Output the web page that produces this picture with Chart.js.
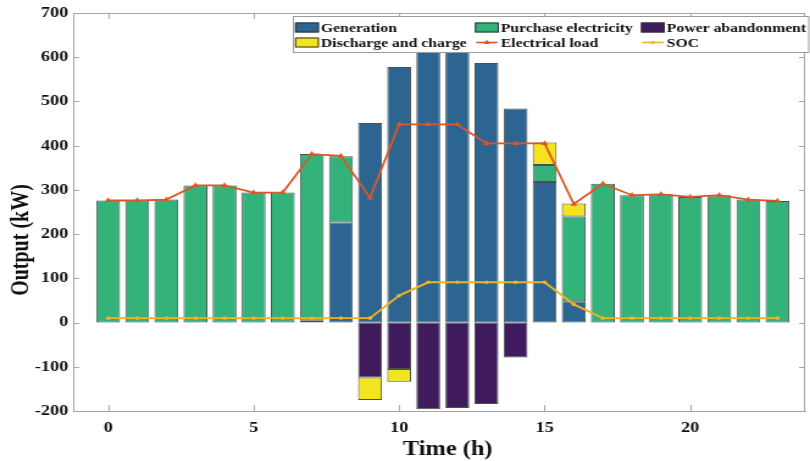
<!DOCTYPE html>
<html>
<head>
<meta charset="utf-8">
<title>Hourly power balance</title>
<script src="https://cdn.jsdelivr.net/npm/chart.js@4/dist/chart.umd.min.js"></script>
<style>
  html, body { margin: 0; padding: 0; background: #ffffff; overflow: hidden; }
  #wrap { width: 664px; height: 461px; transform: scaleX(1.21988); transform-origin: 0 0; }
</style>
</head>
<body>
<div id="wrap"><canvas id="c" width="664" height="461"></canvas></div>
<script>
// Hour of day
const hours = [0, 1, 2, 3, 4, 5, 6, 7, 8, 9, 10, 11, 12, 13, 14, 15, 16, 17, 18, 19, 20, 21, 22, 23];

// Stacked bar series (kW)
const generation  = [0, 0, 0, 0, 0, 0, 0, 4, 226, 451, 578, 644, 641, 587, 484, 318, 48, 0, 0, 0, 0, 0, 0, 0];
const purchase    = [276, 276, 278, 310, 310, 294, 294, 377, 150, 0, 0, 0, 0, 0, 0, 38, 192, 314, 288, 290, 284, 288, 278, 275];
const abandonment = [0, 0, 0, 0, 0, 0, 0, 0, 0, -124, -105, -196, -193, -184, -79, 0, 0, 0, 0, 0, 0, 0, 0, 0];
const storage     = [0, 0, 0, 0, 0, 0, 0, 0, 0, -51, -29, 0, 0, 0, 0, 51, 29, 0, 0, 0, 0, 0, 0, 0];

// Line series
const load = [276, 276, 278, 310, 310, 294, 294, 381, 377, 282, 448, 448, 448, 405, 405, 405, 268, 314, 288, 290, 284, 288, 278, 275];
const soc  = [10, 10, 10, 10, 10, 10, 10, 10, 10, 10, 61, 91, 91, 91, 91, 91, 41, 10, 10, 10, 10, 10, 10, 10];

// Axis ticks
const xTickValues = [0, 5, 10, 15, 20];
const yTickValues = [-200, -100, 0, 100, 200, 300, 400, 500, 600, 700];

const seriesNames = ['Generation', 'Purchase electricity', 'Power abandonment',
                     'Discharge and charge', 'Electrical load', 'SOC'];

const FONT = "'Liberation Serif', 'Times New Roman', serif";
const AXIS_COLOR = '#a4a4a4';
const TEXT_COLOR = '#111111';
const EDGE = 'rgba(40,50,50,0.85)';

const toPoints = vals => hours.map((h, i) => ({ x: h, y: vals[i] }));

const barDataset = (label, vals, color) => ({
  type: 'bar',
  label,
  data: toPoints(vals),
  backgroundColor: color,
  borderColor: EDGE,
  borderWidth: 1,
  borderSkipped: false,
  categoryPercentage: 1.0,
  barPercentage: 0.82
});

// Box edges and inward tick marks, drawn beneath the bars
const frame = {
  id: 'frame',
  beforeDatasetsDraw(chart) {
    const { ctx, chartArea: a, scales: { x, y } } = chart;
    ctx.save();
    ctx.strokeStyle = AXIS_COLOR;
    ctx.lineWidth = 1;
    ctx.beginPath();
    ctx.moveTo(a.left, a.top + 0.5); ctx.lineTo(a.right, a.top + 0.5);
    ctx.moveTo(a.right - 0.5, a.top); ctx.lineTo(a.right - 0.5, a.bottom);
    xTickValues.forEach(v => {
      const px = Math.round(x.getPixelForValue(v)) + 0.5;
      ctx.moveTo(px, a.bottom); ctx.lineTo(px, a.bottom - 6);
      ctx.moveTo(px, a.top); ctx.lineTo(px, a.top + 6);
    });
    yTickValues.forEach(v => {
      const py = Math.round(y.getPixelForValue(v)) + 0.5;
      ctx.moveTo(a.left, py); ctx.lineTo(a.left + 5, py);
      ctx.moveTo(a.right, py); ctx.lineTo(a.right - 5, py);
    });
    ctx.stroke();
    ctx.restore();
  }
};

// Axis titles and the boxed three-column legend
const annotations = {
  id: 'annotations',
  afterDraw(chart) {
    const { ctx } = chart;
    const ds = chart.data.datasets;
    ctx.save();

    // axis titles
    ctx.fillStyle = TEXT_COLOR;
    ctx.font = 'bold 20px ' + FONT;
    ctx.textAlign = 'center';
    ctx.textBaseline = 'alphabetic';
    ctx.fillText('Time (h)', 367, 454.5);
    ctx.save();
    ctx.translate(17.5, 240);
    ctx.rotate(-Math.PI / 2);
    ctx.textBaseline = 'middle';
    ctx.fillText('Output (kW)', 0, 0);
    ctx.restore();

    // legend box
    const box = { l: 240.5, t: 16.5, r: 663, b: 52.5 };
    ctx.fillStyle = '#ffffff';
    ctx.fillRect(box.l, box.t, box.r - box.l, box.b - box.t);
    ctx.strokeStyle = '#9c9c9c';
    ctx.lineWidth = 1;
    ctx.strokeRect(box.l, box.t, box.r - box.l, box.b - box.t);

    const cols = [241.8, 389.3, 525.4];
    const rows = [{ top: 22.5, base: 32 }, { top: 37.5, base: 47.2 }];
    const swW = 19.6, swH = 10;
    ctx.font = 'bold 12.9px ' + FONT;
    ctx.textAlign = 'left';
    ctx.textBaseline = 'alphabetic';

    ds.forEach((d, i) => {
      const cx = cols[i % 3];
      const r = rows[Math.floor(i / 3)];
      if (d.type === 'bar') {
        ctx.fillStyle = d.backgroundColor;
        ctx.fillRect(cx, r.top, swW, swH);
        ctx.strokeStyle = '#333333';
        ctx.strokeRect(cx + 0.5, r.top + 0.5, swW - 1, swH - 1);
      } else {
        const ly = r.top + swH / 2;
        ctx.strokeStyle = d.borderColor;
        ctx.lineWidth = 1.6;
        ctx.beginPath();
        ctx.moveTo(cx + 1, ly); ctx.lineTo(cx + swW - 1, ly);
        ctx.stroke();
        ctx.lineWidth = 1;
        ctx.fillStyle = d.borderColor;
        const mx = cx + swW / 2;
        if (d.pointStyle === 'triangle') {
          ctx.beginPath();
          ctx.moveTo(mx, ly - 3); ctx.lineTo(mx + 2.6, ly + 1.6); ctx.lineTo(mx - 2.6, ly + 1.6);
          ctx.closePath(); ctx.fill();
        } else {
          ctx.beginPath(); ctx.arc(mx, ly, 1.6, 0, Math.PI * 2); ctx.fill();
        }
      }
      ctx.fillStyle = TEXT_COLOR;
      ctx.fillText(d.label, cx + swW + 1.6, r.base);
    });
    ctx.restore();
  }
};

new Chart(document.getElementById('c'), {
  data: {
    datasets: [
      barDataset(seriesNames[0], generation, '#2c6592'),
      barDataset(seriesNames[1], purchase, '#33b37a'),
      barDataset(seriesNames[2], abandonment, '#3f1b5e'),
      barDataset(seriesNames[3], storage, '#f4e41f'),
      {
        type: 'line', label: seriesNames[4], data: toPoints(load), stack: 'load', order: -1,
        borderColor: '#dc5627', backgroundColor: '#dc5627', borderWidth: 1.8, tension: 0,
        pointStyle: 'triangle', pointRadius: 3.2, pointBorderWidth: 0
      },
      {
        type: 'line', label: seriesNames[5], data: toPoints(soc), stack: 'soc', order: -1,
        borderColor: '#efb323', backgroundColor: '#efb323', borderWidth: 1.9, tension: 0,
        pointStyle: 'circle', pointRadius: 1.8, pointBorderWidth: 0
      }
    ]
  },
  options: {
    responsive: false,
    animation: false,
    layout: { padding: { top: 13, right: 1, left: 0, bottom: 0 } },
    plugins: { legend: { display: false }, tooltip: { enabled: false } },
    scales: {
      x: {
        type: 'linear', min: -1.2, max: 23.95, offset: false, stacked: true,
        grid: { display: false, drawTicks: false, offset: false },
        border: { display: true, color: AXIS_COLOR, width: 1 },
        ticks: { autoSkip: false, maxRotation: 0, padding: 8, color: TEXT_COLOR,
                 font: { family: FONT, size: 15, weight: 'bold' } },
        afterBuildTicks: s => { s.ticks = xTickValues.map(v => ({ value: v })); },
        afterFit: s => { s.height = 50; }
      },
      y: {
        type: 'linear', min: -200, max: 700, stacked: true,
        grid: { display: false, drawTicks: false },
        border: { display: true, color: AXIS_COLOR, width: 1 },
        ticks: { padding: 4, color: TEXT_COLOR, font: { family: FONT, size: 15, weight: 'bold' } },
        afterBuildTicks: s => { s.ticks = yTickValues.map(v => ({ value: v })); },
        afterFit: s => { s.width = 60; }
      }
    }
  },
  plugins: [frame, annotations]
});
</script>
</body>
</html>
